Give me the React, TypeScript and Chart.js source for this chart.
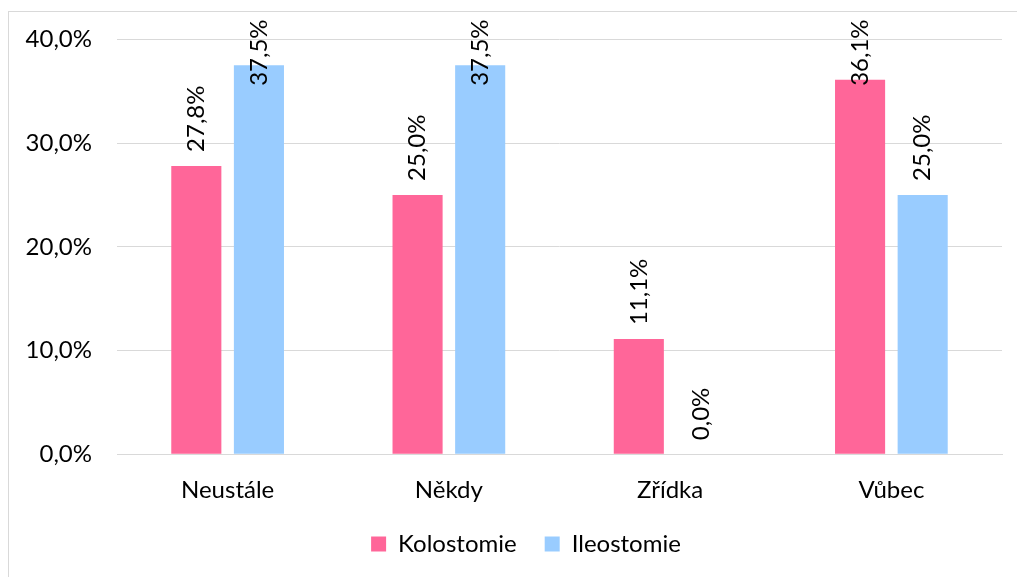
import React, { useEffect, useRef } from "react";
import { Chart, registerables } from "chart.js";

Chart.register(...registerables);

const categories = ["Neustále", "Někdy", "Zřídka", "Vůbec"];
const kolostomie = [27.8, 25.0, 11.1, 36.1];
const ileostomie = [37.5, 37.5, 0.0, 25.0];
const seriesNames = ["Kolostomie", "Ileostomie"];
const FONT = "Lato, 'Open Sans', sans-serif";

const fmt = (v: number) => v.toFixed(1).replace(".", ",") + "%";

const labelPlugin = {
  id: "barLabels",
  afterLayout(chart: any) {
    if (chart.legend) {
      chart.legend.left += 21;
      chart.legend.right += 21;
    }
  },
  afterDatasetsDraw(chart: any) {
    const ctx = chart.ctx;
    ctx.save();
    ctx.font = `24px ${FONT}`;
    ctx.fillStyle = "#000";
    ctx.textAlign = "left";
    ctx.textBaseline = "middle";
    chart.data.datasets.forEach((ds: any, i: number) => {
      const meta = chart.getDatasetMeta(i);
      meta.data.forEach((bar: any, j: number) => {
        const txt = fmt(ds.data[j]);
        const w = ctx.measureText(txt).width;
        let base = bar.y - 14;
        const minTop = chart.chartArea.top - 20;
        if (base - w < minTop) base = minTop + w;
        ctx.save();
        ctx.translate(bar.x, base);
        ctx.rotate(-Math.PI / 2);
        ctx.fillText(txt, 0, 0);
        ctx.restore();
      });
    });
    ctx.restore();
  },
};

export default function App() {
  const ref = useRef<HTMLCanvasElement>(null);
  useEffect(() => {
    if (!ref.current) return;
    const chart = new Chart(ref.current, {
      type: "bar",
      data: {
        labels: categories,
        datasets: [
          { label: seriesNames[0], data: kolostomie, backgroundColor: "#FF6699", barPercentage: 0.8, categoryPercentage: 0.566 },
          { label: seriesNames[1], data: ileostomie, backgroundColor: "#99CCFF", barPercentage: 0.8, categoryPercentage: 0.566 },
        ],
      },
      options: {
        animation: false,
        responsive: false,
        maintainAspectRatio: false,
        layout: { padding: { top: 16, right: 40, left: 0, bottom: 11 } },
        plugins: {
          legend: {
            position: "bottom",
            labels: {
              font: { family: FONT, size: 24 },
              color: "#000",
              boxWidth: 15,
              boxHeight: 15,
              padding: 28,
            },
          },
          tooltip: { enabled: false },
        },
        scales: {
          x: {
            grid: { display: false, drawTicks: false },
            border: { display: true, color: "#d9d9d9", width: 1 },
            ticks: { font: { family: FONT, size: 24 }, color: "#000", padding: 22 },
            afterFit: (s: any) => { s.height -= 23; },
          },
          y: {
            min: 0,
            max: 40,
            grid: { color: "#d9d9d9", lineWidth: 1, drawTicks: false },
            border: { display: false },
            ticks: {
              stepSize: 10,
              font: { family: FONT, size: 24 },
              color: "#000",
              padding: 25,
              callback: (v: any) => fmt(Number(v)),
            },
            afterFit: (s: any) => { s.width = 109; },
          },
        },
      },
      plugins: [labelPlugin],
    });
    return () => chart.destroy();
  }, []);
  return (
    <>
      <canvas ref={ref} width={1034} height={577} style={{ position: "fixed", left: 8, top: 0, width: 1034, height: 577 }} />
      <div style={{ position: "fixed", left: 8, top: 11, width: 1100, height: 700, borderTop: "1px solid #d9d9d9", borderLeft: "1px solid #d9d9d9", zIndex: 2, pointerEvents: "none" }} />
    </>
  );
}
